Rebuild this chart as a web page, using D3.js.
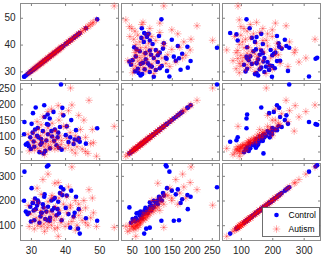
<!DOCTYPE html>
<html>
<head>
<meta charset="utf-8">
<script src="https://cdn.jsdelivr.net/npm/d3@7"></script>
<style>
  body { margin: 0; background: #fff; }
  svg { display: block; font-family: "Liberation Sans", Arial, sans-serif; }
  .tick text { font-size: 10px; fill: #262626; }
  .tick line { stroke: #808080; }
  .legend text { font-size: 8.5px; fill: #000; }
</style>
</head>
<body>
<svg id="chart" width="325" height="257"></svg>
<script>
// variable names / tick labels
var VARS = ["A", "B", "C"];
var TICKS_A = [30, 40, 50];
var TICKS_B = [50, 100, 150, 200, 250];
var TICKS_C = [100, 200, 300];
var GROUPS = ["Control", "Autism"];

// ---- Control (blue dots) ----
var controlA = [49.4,46.1,44.3,43.8,44.0,42.8,41.5,41.0,40.2,39.0,38.8,39.2,38.0,37.5,37.0,36.6,36.2,35.6,35.1,34.7,
                35.0,34.5,34.0,33.9,33.5,33.0,32.8,32.5,32.0,31.8,31.4,31.0,30.8,30.5,30.0,29.8,29.4,29.0,28.5,28.0,
                28.1,36.0,37.8,38.5,39.5,41.8,42.5,43.2,35.5,34.9,40.5,33.2,32.2,36.8,38.2,31.2,34.2,30.2,33.7,30.6];
var controlB = [124,75,81,86,92,88,95,80,102,56,263,189,110,70,120,176,98,60,135,137,
                105,85,160,197,115,90,72,48,125,100,190,65,82,110,58,95,67,76,72,105,
                144,115,95,128,165,150,74,118,155,168,130,78,95,84,62,120,52,138,44,172];
var controlC = [118,128,66,86,165,150,90,145,170,120,254,222,195,140,210,205,160,130,343,338,
                175,155,225,215,185,150,135,110,200,180,165,120,160,190,115,175,150,145,155,199,
                317,200,165,230,245,240,135,215,118,120,220,150,192,170,148,208,125,250,172,190];

// ---- Autism (red asterisks) ----
var autismA = [54.4,47.0,42.0,38.0,49.2,46.7,41.6,35.0,38.0,48.3,47.5,46.0,45.0,44.5,44.0,43.5,43.0,42.5,42.0,41.5,
               41.0,40.5,40.0,39.5,39.0,38.8,38.5,38.2,37.8,37.5,37.2,37.0,36.8,36.5,36.2,36.0,35.8,35.5,35.2,35.0,
               34.8,34.5,34.2,34.0,33.8,33.5,33.2,33.0,32.8,32.5,32.2,32.0,31.8,31.5,31.2,31.0,30.8,30.5,30.0,29.5,
               29.2,39.0,36.0,45.5,44.0,40.5,33.0,43.0,34.0,37.0,41.0,46.0,48.0];
var autismB = [130,213,198,60,35,44,252,177,196,78,75,50,58,120,90,65,100,80,55,110,
               70,92,60,130,85,72,100,150,66,88,115,58,78,95,140,62,82,105,70,125,
               55,90,75,110,65,160,85,50,100,72,120,60,145,80,95,55,110,70,85,52,
               105,170,185,150,165,130,135,45,40,115,180,95,120];
var autismC = [91,244,336,55,95,100,181,307,273,150,130,110,120,160,140,100,200,130,115,170,
               105,150,95,185,125,110,160,210,90,135,175,85,120,145,220,100,130,155,110,195,
               90,150,125,170,105,285,140,95,160,120,190,100,250,130,160,85,200,115,145,95,
               180,230,210,200,185,215,225,80,75,270,255,170,210];

var svg = d3.select("#chart");

// panel layout
var COL_X = [20, 121, 222], PW = 98;
var ROW_Y = [3, 83, 163], PH = 77;

var data = {
  Control: {A: controlA, B: controlB, C: controlC},
  Autism:  {A: autismA,  B: autismB,  C: autismC}
};
var DOMAINS = {A: [26.8, 55.5], B: [23, 268], C: [40, 352]};
var TICKS = {A: TICKS_A, B: TICKS_B, C: TICKS_C};

var xs = {}, ys = {};
VARS.forEach(function(v, i){
  xs[v] = d3.scaleLinear().domain(DOMAINS[v]).range([COL_X[i], COL_X[i] + PW]);
  ys[v] = d3.scaleLinear().domain(DOMAINS[v]).range([ROW_Y[i] + PH, ROW_Y[i]]);
});

var RED = "#ff0000", RED_OP = 0.38, STAR_R = 3.8;

// asterisk marker (MATLAB '*')
function asterisk(r){
  var d = r * 0.7071;
  return "M" + (-r) + ",0L" + r + ",0M0," + (-r) + "L0," + r +
         "M" + (-d) + "," + (-d) + "L" + d + "," + d + "M" + (-d) + "," + d + "L" + d + "," + (-d);
}

VARS.forEach(function(vy, r){
  VARS.forEach(function(vx, c){
    var g = svg.append("g");
    var x = xs[vx], y = ys[vy];

    g.append("rect")
      .attr("x", COL_X[c] + 0.5).attr("y", ROW_Y[r] + 0.5)
      .attr("width", PW).attr("height", PH)
      .attr("fill", "#fff").attr("stroke", "#8c8c8c").attr("stroke-width", 1);

    // ticks (inside) on all four sides, labels on left column / bottom row only
    var ab = g.append("g").attr("transform", "translate(0," + (ROW_Y[r] + PH + 0.5) + ")")
      .call(d3.axisBottom(x).tickValues(TICKS[vx]).tickSize(-2.5).tickPadding(6)
        .tickFormat(r == 2 ? d3.format("d") : ""));
    var at = g.append("g").attr("transform", "translate(0," + (ROW_Y[r] + 0.5) + ")")
      .call(d3.axisTop(x).tickValues(TICKS[vx]).tickSize(-2.5).tickFormat(""));
    var al = g.append("g").attr("transform", "translate(" + (COL_X[c] + 0.5) + ",0)")
      .call(d3.axisLeft(y).tickValues(TICKS[vy]).tickSize(-2.5).tickPadding(5)
        .tickFormat(c == 0 ? d3.format("d") : ""));
    var ar = g.append("g").attr("transform", "translate(" + (COL_X[c] + PW + 0.5) + ",0)")
      .call(d3.axisRight(y).tickValues(TICKS[vy]).tickSize(-2.5).tickFormat(""));
    [ab, at, al, ar].forEach(function(a){ a.select(".domain").remove(); a.attr("font-family", null); });

    // control first, autism on top
    var ctl = data.Control;
    g.append("g").selectAll("circle")
      .data(d3.range(ctl.A.length))
      .join("circle")
      .attr("cx", function(i){ return x(ctl[vx][i]); })
      .attr("cy", function(i){ return y(ctl[vy][i]); })
      .attr("r", 2.3)
      .attr("fill", "#0000ff");

    var aut = data.Autism;
    g.append("g").selectAll("path")
      .data(d3.range(aut.A.length))
      .join("path")
      .attr("d", asterisk(STAR_R))
      .attr("transform", function(i){ return "translate(" + x(aut[vx][i]) + "," + y(aut[vy][i]) + ")"; })
      .attr("fill", "none")
      .attr("stroke", RED)
      .attr("stroke-opacity", RED_OP)
      .attr("stroke-width", 0.8);
  });
});

// legend in lower-right panel
var lg = svg.append("g").attr("class", "legend").attr("transform", "translate(262.5,207.5)");
lg.append("rect").attr("width", 57).attr("height", 29)
  .attr("fill", "#fff").attr("stroke", "#4d4d4d").attr("stroke-width", 0.8);
lg.append("circle").attr("cx", 14).attr("cy", 7.5).attr("r", 2.3).attr("fill", "#0000ff");
lg.append("path").attr("d", asterisk(STAR_R)).attr("transform", "translate(14,21.5)")
  .attr("fill", "none").attr("stroke", RED).attr("stroke-opacity", RED_OP).attr("stroke-width", 0.8);
lg.selectAll("text").data(GROUPS).join("text")
  .attr("x", 26).attr("y", function(d, i){ return 10.5 + i * 14; })
  .text(function(d){ return d; });
</script>
</body>
</html>
